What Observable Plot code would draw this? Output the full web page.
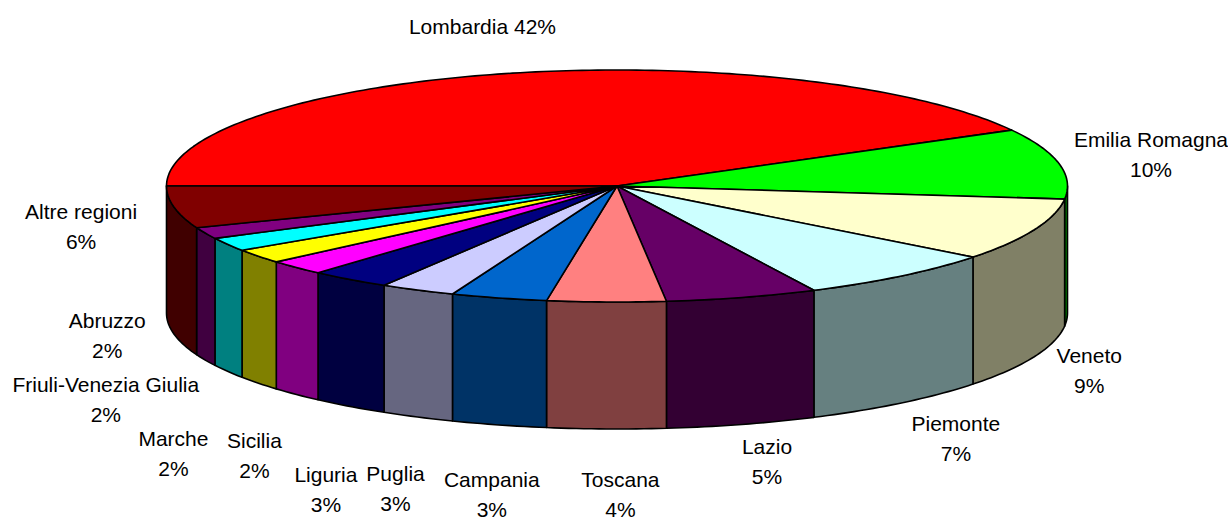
<!DOCTYPE html>
<html>
<head>
<meta charset="utf-8">
<style>
  html, body { margin: 0; padding: 0; background: #fff; }
  svg { display: block; }
</style>
<script src="https://cdn.jsdelivr.net/npm/d3@7"></script>
<script src="https://cdn.jsdelivr.net/npm/@observablehq/plot@0.6"></script>
</head>
<body>
<script>
// Data
const regions = ["Lombardia", "Emilia Romagna", "Veneto", "Piemonte", "Lazio", "Toscana", "Campania", "Puglia", "Liguria", "Sicilia", "Marche", "Friuli-Venezia Giulia", "Abruzzo", "Altre regioni"];
const shares = [42.0, 9.8, 8.7, 7.3, 5.45, 4.25, 3.45, 2.7, 2.9, 2.1, 2.0, 1.9, 1.6, 5.85];
const topColors = ["#ff0000", "#00ff00", "#ffffcc", "#ccffff", "#660066", "#ff8080", "#0066cc", "#ccccff", "#000080", "#ff00ff", "#ffff00", "#00ffff", "#800080", "#800000"];
const wallColors = ["#800000", "#008000", "#808066", "#668080", "#330033", "#804040", "#003366", "#666680", "#000040", "#800080", "#808000", "#008080", "#400040", "#400000"];

// Layout
const W = 1228, H = 520;
const cx = 616.5, cy = 185.5, rx = 450.5, ry = 116, depth = 127, startAngle = 180;
const labelDx = [-22.5, 92, 55, 55, 25, 14, -7, -22, -24, -42, -85, -122, -98, -93];
const labelDy = [-49, -11, 139, 160, 162, 190, 194, 196, 208, 186, 195, 153, 100, 17];
const labelBreak = regions.map((_, i) => i === 0 ? " " : "\n");

const total = d3.sum(shares);
const rim = (deg, drop = 0) => ({
  x: cx + rx * Math.cos(deg * Math.PI / 180),
  y: cy - ry * Math.sin(deg * Math.PI / 180) + drop
});
const arc = (from, to, drop = 0) => {
  const n = Math.max(1, Math.ceil(Math.abs(from - to)));
  return d3.range(n + 1).map(k => rim(from + (to - from) * k / n, drop));
};

let acc = 0;
const slices = regions.map((name, i) => {
  const from = startAngle - acc / total * 360;
  acc += shares[i];
  const to = startAngle - acc / total * 360;
  return {name, i, from, to, mid: (from + to) / 2};
});

const topRows = slices.flatMap(s =>
  [{x: cx, y: cy}, ...arc(s.from, s.to), {x: cx, y: cy}]
    .map(p => ({...p, id: s.name, color: topColors[s.i]})));

const wallRows = slices
  .filter(s => s.to < 0)
  .flatMap(s => {
    const a = Math.min(s.from, 0), b = s.to;
    const front = arc(a, b);
    const back = arc(b, a, depth);
    return [...front, ...back, front[0]]
      .map(p => ({...p, id: s.name, color: wallColors[s.i]}));
  });

const labelRows = slices.map(s => {
  const p = rim(s.mid);
  return {
    x: p.x + labelDx[s.i],
    y: p.y + labelDy[s.i],
    text: `${s.name}${labelBreak[s.i]}${Math.round(shares[s.i])}%`
  };
});

const chart = Plot.plot({
  width: W,
  height: H,
  margin: 0,
  style: {background: "#fff"},
  x: {domain: [0, W], range: [0, W], axis: null},
  y: {domain: [0, H], range: [0, H], axis: null},
  marks: [
    Plot.line(wallRows, {x: "x", y: "y", z: "id", fill: "color", stroke: "#000", strokeWidth: 1.6, strokeLinejoin: "round"}),
    Plot.line(topRows, {x: "x", y: "y", z: "id", fill: "color", stroke: "#000", strokeWidth: 1.6, strokeLinejoin: "round"}),
    Plot.text(labelRows, {x: "x", y: "y", text: "text", fontFamily: "Liberation Sans", fontSize: 21, lineHeight: 1.43, fill: "#000", textAnchor: "middle"})
  ]
});
document.body.appendChild(chart);
</script>
</body>
</html>
